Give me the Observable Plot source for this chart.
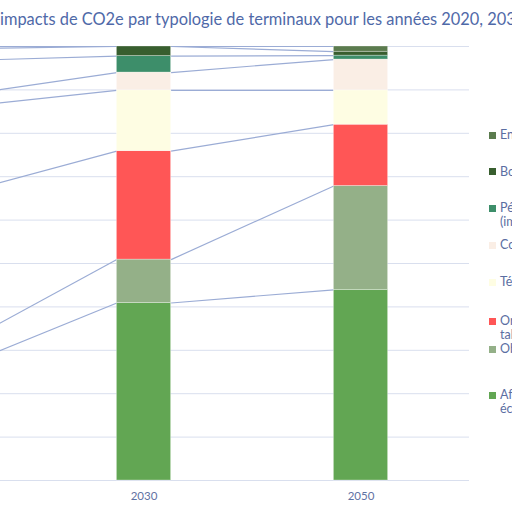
<!DOCTYPE html>
<html>
<head>
<meta charset="utf-8">
<script src="https://cdn.jsdelivr.net/npm/d3@7"></script>
<script src="https://cdn.jsdelivr.net/npm/@observablehq/plot@0.6"></script>
<style>
  html, body { margin: 0; padding: 0; background: #fff; }
  body { width: 512px; height: 512px; overflow: hidden; position: relative; font-family: Lato, "Open Sans", sans-serif; }
  #title { position: absolute; top: 9px; white-space: nowrap; font-size: 16.4px; color: #4F69A8; }
  #chart { position: absolute; left: -260px; top: 0; width: 800px; height: 512px; }
  #chart svg { max-width: none !important; width: 800px; height: 512px; }
  #legend { position: absolute; left: 489px; top: 0; width: 200px; }
  .item { position: absolute; left: 0; font-size: 12.5px; line-height: 14px; color: #5B6EA2; white-space: pre; }
  .sw { position: absolute; left: 0; top: 3.5px; width: 7px; height: 7px; }
  .lab { position: absolute; left: 11px; top: 0; }
</style>
</head>
<body>
<div id="title"><span id="pre">Répartition des </span><span>impacts de CO2e par typologie de terminaux pour les années 2020, 2030 et 2050</span></div>
<div id="chart"></div>
<div id="legend"></div>
<script>
// ---- data ----
const years = ["2020", "2030", "2050"];
// series from bottom of the stack to top
const seriesNames = [
  "Affichage (téléviseurs,\nécrans)",
  "Objets connectés",
  "Ordinateurs et\ntablettes",
  "Téléphones",
  "Consoles de jeux",
  "Périphériques\n(imprimantes, etc.)",
  "Box internet",
  "Enceintes connectées"
];
const seriesColors = ["#62A653", "#94B088", "#FF5656", "#FEFDE3", "#FAEEE5", "#3D8E6A", "#385E2F", "#5B7B4E"];
const affichage   = [25.6, 40.9, 43.9];
const objets      = [4.9, 10.0, 23.9];
const ordinateurs = [35.3, 25.0, 14.1];
const telephones  = [20.1, 14.0, 7.9];
const consoles    = [2.6, 4.1, 7.1];
const peripheriques = [8.2, 3.8, 0.9];
const box         = [2.8, 2.2, 0.9];
const enceintes   = [0.5, 0.0, 1.2];
const seriesValues = [affichage, objets, ordinateurs, telephones, consoles, peripheriques, box, enceintes];
const yTicks = [0, 0.1, 0.2, 0.3, 0.4, 0.5, 0.6, 0.7, 0.8, 0.9, 1.0];

// ---- build stacked table (normalized) ----
const halfBar = 0.125;
const totals = years.map((_, i) => d3.sum(seriesValues, s => s[i]));
const rects = [];
const tops = seriesNames.map(() => []);
years.forEach((y, i) => {
  let acc = 0;
  seriesNames.forEach((name, k) => {
    const v = seriesValues[k][i] / totals[i];
    rects.push({i, series: name, y1: acc, y2: acc + v});
    acc += v;
    tops[k][i] = acc;
  });
});
const links = [];
seriesNames.forEach((name, k) => {
  for (let i = 0; i < years.length - 1; i++) {
    links.push({x1: i + halfBar, x2: i + 1 - halfBar, y1: tops[k][i], y2: tops[k][i + 1]});
  }
});

const W = 800, mL = 78, mR = 71;
const plot = Plot.plot({
  width: W,
  height: 512,
  marginLeft: mL,
  marginRight: mR,
  marginTop: 46,
  marginBottom: 32,
  style: {fontFamily: "Lato, 'Open Sans', sans-serif", fontSize: "11.5px", color: "#5F72A3", background: "transparent"},
  x: {type: "linear", domain: [-0.5, 2.5], axis: null},
  y: {domain: [0, 1], axis: null},
  color: {domain: seriesNames, range: seriesColors},
  marks: [
    Plot.ruleY(yTicks, {stroke: "#D9DFEE", strokeWidth: 1}),
    Plot.link(links, {x1: "x1", x2: "x2", y1: "y1", y2: "y2", stroke: "#9BACD5", strokeWidth: 1.2}),
    Plot.rect(rects, {x1: d => d.i - halfBar, x2: d => d.i + halfBar, y1: "y1", y2: "y2", fill: "series", stroke: "#ffffff", strokeOpacity: 0.5, strokeWidth: 0.6}),
    Plot.axisX([0, 1, 2], {tickSize: 0, tickPadding: 11, tickFormat: i => years[i], fill: "#5F72A3", fontSize: 11.5, anchor: "bottom"})
  ]
});
document.getElementById("chart").appendChild(plot);

// ---- title: place so that the text after the prefix starts at the left edge ----
const pre = document.getElementById("pre");
document.getElementById("title").style.left = (-pre.getBoundingClientRect().width) + "px";

// ---- legend (top item first) ----
const legendY = [135, 171.7, 208.3, 245, 282.3, 321, 349.3, 395];
const legend = document.getElementById("legend");
const order = seriesNames.map((_, k) => k).reverse();
order.forEach((k, j) => {
  const it = document.createElement("div");
  it.className = "item";
  it.style.top = (legendY[j] - 7) + "px";
  const sw = document.createElement("div");
  sw.className = "sw";
  sw.style.background = seriesColors[k];
  const lab = document.createElement("div");
  lab.className = "lab";
  lab.textContent = seriesNames[k];
  it.appendChild(sw);
  it.appendChild(lab);
  legend.appendChild(it);
});
</script>
</body>
</html>
